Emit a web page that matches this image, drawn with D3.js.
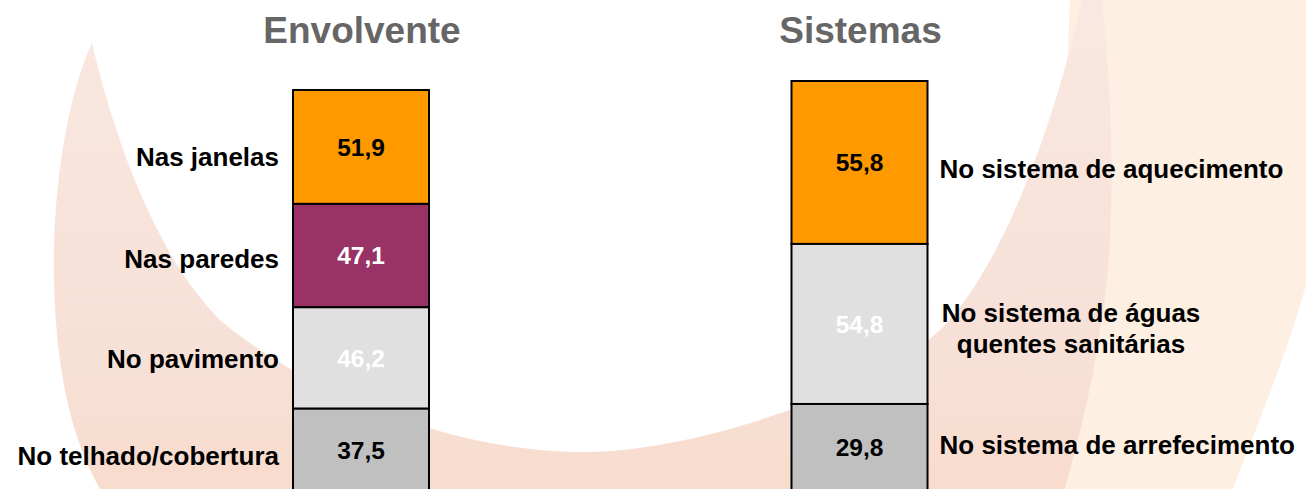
<!DOCTYPE html>
<html>
<head>
<meta charset="utf-8">
<script src="https://cdn.jsdelivr.net/npm/d3@7"></script>
<style>
  html, body { margin: 0; padding: 0; background: #fff; }
  svg { display: block; }
  text { font-family: "Liberation Sans", Arial, sans-serif; font-weight: bold; }
</style>
</head>
<body>
<div id="chart"></div>
<script>
// ---- data ----
const columns = ["Envolvente", "Sistemas"];
const envolventeLabels = ["Nas janelas", "Nas paredes", "No pavimento", "No telhado/cobertura"];
const envolventeValues = [51.9, 47.1, 46.2, 37.5];
const sistemasLabels = ["No sistema de aquecimento", "No sistema de águas\nquentes sanitárias", "No sistema de arrefecimento"];
const sistemasValues = [55.8, 54.8, 29.8];

// ---- styles / layout ----
const envolventeColors = ["#FF9900", "#993366", "#E0E0E0", "#C0C0C0"];
const envolventeTextColors = ["#000", "#fff", "#fff", "#000"];
const sistemasColors = ["#FF9900", "#E0E0E0", "#C0C0C0"];
const sistemasTextColors = ["#000", "#fff", "#000"];
const envolventeLabelDy = [9.5, 3, 1, 6];
const sistemasLabelDy = [6, 4, -3];

const W = 1306, H = 489;
const svg = d3.select("#chart").append("svg").attr("width", W).attr("height", H);

// ---- background decoration ----
const defs = svg.append("defs");
const g1 = defs.append("linearGradient").attr("id", "pinkGrad")
  .attr("x1", 0).attr("y1", 0).attr("x2", 0).attr("y2", 1);
g1.append("stop").attr("offset", "0%").attr("stop-color", "#f9e8e1");
g1.append("stop").attr("offset", "75%").attr("stop-color", "#f7e0d6");
g1.append("stop").attr("offset", "100%").attr("stop-color", "#f8dccd");

svg.append("path")
  .attr("d", "M1070,0 L1306,0 L1306,285 C1285,360 1255,430 1233,489 L1050,489 Z")
  .attr("fill", "#fdefe1");
svg.append("path")
  .attr("d", "M92,43 C70,90 52,180 54,280 C56,380 75,445 100,489 L1065,489 " +
             "C1075,450 1090,400 1100,330 C1115,250 1115,120 1102,0 L1082,0 " +
             "C1060,100 1010,260 940,330 C880,385 700,455 573,452 " +
             "C430,448 290,380 220,320 C150,250 110,120 92,43 Z")
  .attr("fill", "url(#pinkGrad)");

// ---- scales ----
const fmt = d3.formatLocale({decimal: ",", thousands: ".", grouping: [3], currency: ["", "€"]}).format(".1f");
const x = d3.scalePoint().domain(columns).range([361, 859.5]);
const barW = 136;
const bottom = 491;
const tops = {Envolvente: 90, Sistemas: 81};

function stack(values) {
  let c = 0;
  return values.map(v => { const s = c; c += v; return [s, c]; });
}

function drawColumn(name, values, colors, textColors) {
  const total = d3.sum(values);
  const y = d3.scaleLinear().domain([0, total]).range([tops[name], bottom]);
  const st = stack(values);
  const g = svg.append("g");
  g.selectAll("rect").data(st).join("rect")
    .attr("x", x(name) - barW / 2)
    .attr("width", barW)
    .attr("y", d => y(d[0]))
    .attr("height", d => y(d[1]) - y(d[0]))
    .attr("fill", (d, i) => colors[i])
    .attr("stroke", "#000")
    .attr("stroke-width", 2);
  g.selectAll("text.val").data(st).join("text")
    .attr("class", "val")
    .attr("x", x(name))
    .attr("y", d => (y(d[0]) + y(d[1])) / 2)
    .attr("dy", "0.36em")
    .attr("text-anchor", "middle")
    .attr("font-size", 24.5)
    .attr("fill", (d, i) => textColors[i])
    .text((d, i) => fmt(values[i]));
  // title
  svg.append("text")
    .attr("x", x(name) + 1)
    .attr("y", 43)
    .attr("text-anchor", "middle")
    .attr("font-size", 37)
    .attr("fill", "#666666")
    .text(name);
  return {y, st};
}

const env = drawColumn("Envolvente", envolventeValues, envolventeColors, envolventeTextColors);
const sis = drawColumn("Sistemas", sistemasValues, sistemasColors, sistemasTextColors);

// left labels
svg.append("g").selectAll("text").data(env.st).join("text")
  .attr("x", x("Envolvente") - barW / 2 - 14)
  .attr("y", (d, i) => (env.y(d[0]) + env.y(d[1])) / 2 + envolventeLabelDy[i])
  .attr("dy", "0.36em")
  .attr("text-anchor", "end")
  .attr("font-size", 26)
  .attr("fill", "#000")
  .text((d, i) => envolventeLabels[i]);

// right labels
const rg = svg.append("g");
sis.st.forEach((d, i) => {
  const lines = sistemasLabels[i].split("\n");
  const cy = (sis.y(d[0]) + sis.y(d[1])) / 2 + sistemasLabelDy[i];
  const lh = 31;
  const multi = lines.length > 1;
  const t = rg.append("text")
    .attr("font-size", 26)
    .attr("fill", "#000")
    .attr("text-anchor", multi ? "middle" : "start");
  const tx = multi ? 1071 : x("Sistemas") + barW / 2 + 12;
  lines.forEach((ln, j) => {
    t.append("tspan")
      .attr("x", tx)
      .attr("y", cy + (j - (lines.length - 1) / 2) * lh)
      .attr("dy", "0.36em")
      .text(ln);
  });
});
</script>
</body>
</html>
